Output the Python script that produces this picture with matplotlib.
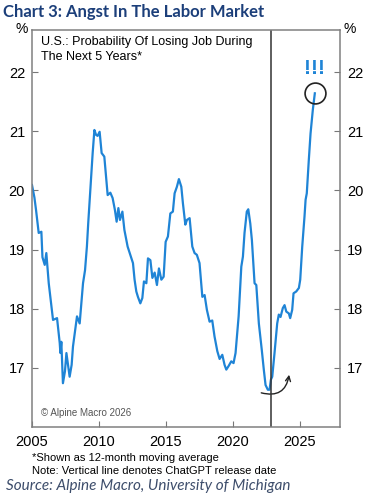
import numpy as np
import matplotlib
matplotlib.use("Agg")
import matplotlib.pyplot as plt
from matplotlib.patches import FancyArrowPatch

# U.S. probability of losing job during next 5 years (12m MA)
years = [2005.00, 2005.18, 2005.30, 2005.50, 2005.70, 2005.78, 2005.95, 2006.07,
         2006.25, 2006.37, 2006.57, 2006.87, 2007.07, 2007.12, 2007.19, 2007.31,
         2007.46, 2007.57, 2007.81, 2007.96, 2008.06, 2008.36, 2008.56, 2008.81,
         2008.96, 2009.10, 2009.20, 2009.36, 2009.53, 2009.66, 2009.78, 2009.90,
         2010.05, 2010.20, 2010.40, 2010.65, 2010.85, 2011.02, 2011.19, 2011.32,
         2011.45, 2011.57, 2011.75, 2011.90, 2012.14, 2012.54, 2012.66, 2012.79,
         2012.91, 2013.09, 2013.24, 2013.36, 2013.54, 2013.66, 2013.84, 2013.99,
         2014.16, 2014.33, 2014.48, 2014.66, 2014.83, 2014.98, 2015.15, 2015.33,
         2015.52, 2015.65, 2015.82, 2015.97, 2016.15, 2016.27, 2016.45, 2016.57,
         2016.77, 2016.97, 2017.14, 2017.31, 2017.51, 2017.72, 2017.89, 2018.06,
         2018.26, 2018.46, 2018.63, 2018.84, 2019.01, 2019.21, 2019.38, 2019.51,
         2019.68, 2019.88, 2020.05, 2020.20, 2020.33, 2020.43, 2020.63, 2020.75,
         2020.87, 2021.04, 2021.15, 2021.30, 2021.42, 2021.62, 2021.75, 2021.94,
         2022.16, 2022.31, 2022.44, 2022.61, 2022.74, 2022.84, 2022.94, 2023.11,
         2023.31, 2023.43, 2023.56, 2023.73, 2023.86, 2023.99, 2024.18, 2024.28,
         2024.43, 2024.53, 2024.73, 2024.93, 2025.03, 2025.18, 2025.35, 2025.43,
         2025.52, 2025.67, 2025.80, 2025.97, 2026.12]
values = [20.09, 19.88, 19.67, 19.28, 19.30, 18.87, 18.74, 18.94,
          18.43, 18.20, 17.81, 17.84, 17.42, 17.25, 17.44, 16.74,
          16.94, 17.25, 16.85, 17.05, 17.36, 17.87, 17.75, 18.43,
          18.65, 19.05, 19.45, 20.01, 20.63, 21.02, 20.94, 20.92,
          20.99, 20.63, 20.57, 19.92, 19.96, 19.87, 19.67, 19.47,
          19.70, 19.50, 19.64, 19.33, 19.05, 18.77, 18.49, 18.29,
          18.20, 18.09, 18.18, 18.46, 18.43, 18.85, 18.82, 18.52,
          18.61, 18.40, 18.68, 18.49, 18.54, 19.13, 19.22, 19.61,
          19.64, 19.95, 20.06, 20.19, 20.06, 19.78, 19.42, 19.50,
          19.53, 19.05, 18.94, 18.91, 18.77, 18.20, 18.23, 17.98,
          17.78, 17.80, 17.53, 17.28, 17.15, 17.22, 17.05, 16.97,
          17.03, 17.11, 17.08, 17.25, 17.59, 17.87, 18.71, 18.88,
          19.28, 19.64, 19.68, 19.44, 19.16, 18.43, 18.40, 17.75,
          17.30, 16.97, 16.71, 16.63, 16.63, 16.80, 16.85, 17.25,
          17.75, 17.90, 17.86, 18.01, 18.06, 17.95, 17.92, 17.84,
          17.98, 18.26, 18.29, 18.35, 18.49, 19.05, 19.56, 19.84,
          19.95, 20.51, 20.96, 21.36, 21.64]

chatgpt_date = 2022.87
x_ticks = [2005, 2010, 2015, 2020, 2025]
y_ticks = [17, 18, 19, 20, 21, 22]

blue = '#1f84d6'
plt.rcParams['font.family'] = ['Liberation Sans', 'DejaVu Sans']

fig = plt.figure(figsize=(3.66, 5.0), dpi=100)
ax = fig.add_axes([32/366, 1-427/500, 308/366, 397/500])

ax.plot(years, values, color=blue, lw=1.6)
ax.axvline(chatgpt_date, color='#333333', lw=1.1)

# circle around latest reading and exclamation marks
ax.plot(years[-1], values[-1], marker='o', ms=15, mfc='none', mec='#222222', mew=1.2)
ax.text(years[-1], 22.06, '!!!', color=blue, fontsize=15, fontweight='bold',
        ha='center', va='center')

# curved arrow around the trough
arr = FancyArrowPatch((2021.92, 16.59), (2024.23, 16.93),
                      connectionstyle='arc3,rad=0.6', arrowstyle='->',
                      mutation_scale=9, color='#222222', lw=1.0)
ax.add_patch(arr)

ax.set_xlim(2005, 2028)
ax.set_ylim(16.0, 22.71)
ax.set_xticks(x_ticks)
ax.set_yticks(y_ticks)
ax.tick_params(direction='in', length=4, color='#777777', labelsize=10.5,
               left=True, right=True, labelright=True, pad=5)
ax.tick_params(axis='x', pad=6)
for s in ax.spines.values():
    s.set_color('#808080')
    s.set_linewidth(1.1)

ax.text(0.03, 0.985, 'U.S.: Probability Of Losing Job During\nThe Next 5 Years*',
        transform=ax.transAxes, fontsize=9, va='top', ha='left', linespacing=1.3)
ax.text(0.03, 0.035, '\u00a9 Alpine Macro 2026', transform=ax.transAxes,
        fontsize=7, color='#555555', va='center')

fig.text(22/366, 1-29/500, '%', fontsize=10, ha='center', va='center')
fig.text(350/366, 1-29/500, '%', fontsize=10, ha='center', va='center')

fig.text(3/366, 1-12/500, 'Chart 3: Angst In The Labor Market', fontsize=12,
         fontweight='bold', color='#1c3f7a', family=['Lato', 'DejaVu Sans'],
         ha='left', va='center')
fig.text(32/366, 1-458/500, '*Shown as 12-month moving average', fontsize=8,
         ha='left', va='center')
fig.text(32/366, 1-471/500, 'Note: Vertical line denotes ChatGPT release date',
         fontsize=8, ha='left', va='center')
fig.text(6/366, 1-486/500, 'Source: Alpine Macro, University of Michigan',
         fontsize=11, style='italic', color='#3d4d6b',
         family=['Lato', 'DejaVu Sans'], ha='left', va='center')

fig.savefig('out.png', dpi=100)
